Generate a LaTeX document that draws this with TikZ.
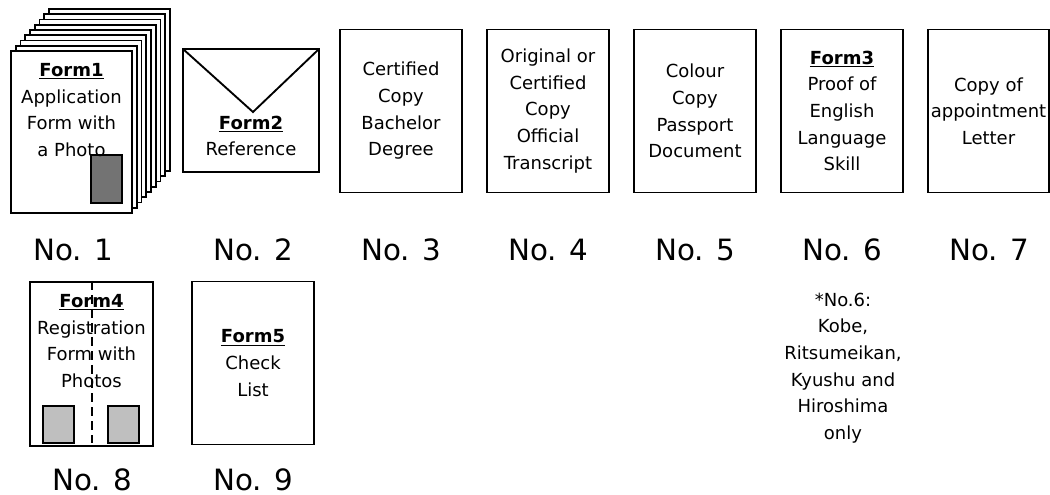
\documentclass[tikz,border=0pt]{standalone}
\usepackage{fontspec}
\setmainfont{DejaVu Sans}
\begin{document}
\begin{tikzpicture}[x=0.75pt, y=-0.75pt,
    doc/.style={draw, line width=1.4pt, fill=white},
    txt/.style={align=center, font=\fontsize{13.5}{20}\selectfont},
    sheet/.style={doc, txt, minimum width=91.5pt, minimum height=122.25pt, inner sep=0pt},
    num/.style={font=\fontsize{22}{26}\selectfont, inner sep=0pt}]
    \useasboundingbox (0,0) rectangle (1050,495);

    % No. 1: stack of forms
    \foreach \k in {8,...,1}
        \draw[doc] (11+4.75*\k, 51-5.25*\k) rectangle +(121,162);
    \draw[doc] (11,51) rectangle (132,213);
    \filldraw[fill=black!55, line width=1.4pt] (91,155) rectangle (122,203); %photo
    \node[txt] (form1) at (71.5,110) {\underline{\textbf{Form1}}\\Application\\Form with\\a Photo};

    % No. 2: envelope
    \draw[doc] (183,49) rectangle (319,172);
    \draw[line width=1.4pt] (183,49) -- (253,112) -- (319,49); %flap
    \node[txt] (form2) at (251,136) {\underline{\textbf{Form2}}\\Reference};

    % No. 3 - No. 7
    \node[sheet] (degree) at (401,111) {Certified\\Copy\\Bachelor\\Degree};
    \node[sheet] (transcript) at (548,111) {Original or\\Certified\\Copy\\Official\\Transcript};
    \node[sheet] (passport) at (695,111) {Colour\\Copy\\Passport\\Document};
    \node[sheet] (form3) at (842,111) {\underline{\textbf{Form3}}\\Proof of\\English\\Language\\Skill};
    \node[sheet, minimum width=90.75pt] (letter) at (988.5,111) {Copy of\\appointment\\Letter};

    % No. 8: registration form
    \draw[doc] (30,282) rectangle (153,446);
    \node[txt] (form4) at (91.5,341) {\underline{\textbf{Form4}}\\Registration\\Form with\\Photos};
    \filldraw[fill=black!25, line width=1.4pt] (43,406) rectangle (74,443); %photos
    \filldraw[fill=black!25, line width=1.4pt] (108,406) rectangle (139,443);
    \draw[line width=1.8pt, dash pattern=on 6.75pt off 3.75pt] (92,281) -- (92,443); %cut

    % No. 9: check list
    \node[sheet] (form5) at (253,363) {\underline{\textbf{Form5}}\\Check\\List};

    % Numbers
    \node[num] (n1) at (73,250) {No. 1};
    \node[num] (n2) at (253,250) {No. 2};
    \node[num] (n3) at (401,250) {No. 3};
    \node[num] (n4) at (548,250) {No. 4};
    \node[num] (n5) at (695,250) {No. 5};
    \node[num] (n6) at (842,250) {No. 6};
    \node[num] (n7) at (989,250) {No. 7};
    \node[num] (n8) at (92,480) {No. 8};
    \node[num] (n9) at (253,480) {No. 9};

    % Note
    \node[txt] (note) at (843,368) {*No.6:\\Kobe,\\Ritsumeikan,\\Kyushu and\\Hiroshima\\only};
\end{tikzpicture}
\end{document}
